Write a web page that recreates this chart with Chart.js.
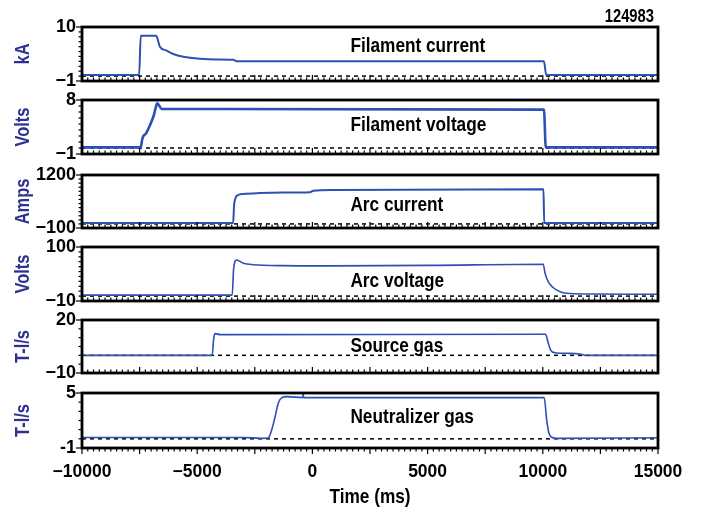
<!DOCTYPE html>
<html>
<head>
<meta charset="utf-8">
<script src="https://cdn.jsdelivr.net/npm/chart.js@4.4.1/dist/chart.umd.min.js"></script>
<style>
  body { margin: 0; background: #fff; }
  #wrap { position: relative; width: 701px; height: 513px; }
  #wrap canvas { position: absolute; left: 0; top: 0; }
</style>
</head>
<body>
<div id="wrap"></div>
<script>
// shot 124983 - beam source traces, times in ms
const shotNumber = '124983';

const filCurT = [-10000, -7520, -7450, -6780, -6620, -6330, -6040, -5600, -4880, -4150, -3430, -3300, 10050, 10150, 15000];
const filCurV = [0.2, 0.2, 8.2, 8.2, 6.0, 5.2, 4.5, 3.95, 3.55, 3.4, 3.35, 3.0, 3.0, 0.2, 0.2];

const filVoltT = [-10000, -7450, -7430, -7370, -7220, -7050, -6880, -6760, -6730, -6540, 10050, 10130, 15000];
const filVoltV = [0.1, 0.1, 0.5, 1.7, 2.45, 3.8, 5.5, 7.3, 7.45, 6.5, 6.4, 0.1, 0.1];

const arcCurT = [-10000, -3440, -3400, -3360, -3290, -3000, -2270, -1260, -100, 40, 900, 10030, 10060, 15000];
const arcCurV = [25, 25, 450, 590, 685, 735, 758, 768, 778, 815, 835, 850, 25, 25];

const arcVoltT = [-10000, -3480, -3420, -3290, -3000, -2560, -1260, 900, 5000, 10020, 10100, 10240, 10460, 10750, 11040, 11900, 15000];
const arcVoltV = [2, 2, 55, 73.5, 67, 64, 62, 61.5, 62.5, 65, 46, 29, 17, 9, 5.7, 4.3, 3.7];

const srcGasT = [-10000, -4350, -4280, -4220, -4000, 10120, 10240, 10340, 10530, 11040, 11620, 11830, 15000];
const srcGasV = [0, 0, 10, 12.3, 11.7, 11.9, 6.8, 3.0, 1.5, 1.15, 0.8, 0, 0];

const neuGasT = [-10000, -3000, -2200, -1920, -1770, -1620, -1480, -1330, -1120, -420, -400, -380, 10060, 10170, 10270, 10390, 10600, 15000];
const neuGasV = [0.15, 0.15, 0.05, 0.1, 0.95, 2.4, 3.9, 4.5, 4.6, 4.5, 4.9, 4.5, 4.5, 2.05, 0.6, 0.17, 0.05, 0.12];

const panelTitles = ['Filament current', 'Filament voltage', 'Arc current', 'Arc voltage', 'Source gas', 'Neutralizer gas'];
const unitLabels = ['kA', 'Volts', 'Amps', 'Volts', 'T-l/s', 'T-l/s'];
const yMin = [-1, -1, -100, -10, -10, -1];
const yMax = [10, 8, 1200, 100, 20, 5];
const yStep = [1, 1, 100, 10, 5, 1];
const yMinLabel = ['\u22121', '\u22121', '\u2212100', '\u221210', '\u221210', '-1'];
const yMaxLabel = ['10', '8', '1200', '100', '20', '5'];
const xMin = -10000, xMax = 15000;
const xTitle = 'Time (ms)';

const series = [
  [filCurT, filCurV], [filVoltT, filVoltV], [arcCurT, arcCurV],
  [arcVoltT, arcVoltV], [srcGasT, srcGasV], [neuGasT, neuGasV]
];

// page layout in pixels
const W = 701, H = 513;
const panelTop = [27, 100, 175, 247, 320, 393];
const panelBottom = [81, 154, 228, 301, 373, 448];
const titleOffset = [19, 25, 30, 34, 26.5, 24.5];
const lineWidths = [2, 2.6, 2, 1.6, 1.6, 1.6];

const FONT = "'Liberation Sans', Arial, sans-serif";
const BLUE = '#2c50b4';
const LABEL_BLUE = '#2e3192';

// no condensed face installed, so squeeze the plain bold one
function condensedText(ctx, text, x, y, o) {
  ctx.save();
  ctx.translate(x, y);
  if (o.rotate) ctx.rotate(-Math.PI / 2);
  ctx.scale(0.82, 1);
  ctx.font = 'bold ' + o.size + 'px ' + FONT;
  ctx.textAlign = o.align || 'left';
  ctx.textBaseline = 'middle';
  ctx.fillStyle = o.color || '#000';
  ctx.fillText(text, 0, 0);
  ctx.restore();
}

const panelDecor = {
  id: 'panelDecor',
  afterDraw(chart, args, opts) {
    const ctx = chart.ctx, a = chart.chartArea;
    const xs = chart.scales.x, ys = chart.scales.y;
    ctx.save();
    ctx.strokeStyle = '#000';
    ctx.lineWidth = 1.2;
    // y ticks on the outside left
    ys.ticks.forEach(t => {
      const py = ys.getPixelForValue(t.value);
      const len = (t.value === ys.min || t.value === ys.max) ? 6 : 3.5;
      ctx.beginPath();
      ctx.moveTo(a.left - len, py);
      ctx.lineTo(a.left, py);
      ctx.stroke();
    });
    // x ticks, inside for the upper panels, outside for the last one
    const dir = opts.ticksOut ? 1 : -1;
    xs.ticks.forEach(t => {
      const px = xs.getPixelForValue(t.value);
      const len = t.value % 2500 === 0 ? 6 : 3.5;
      ctx.beginPath();
      ctx.moveTo(px, a.bottom);
      ctx.lineTo(px, a.bottom + dir * len);
      ctx.stroke();
    });
    ctx.lineWidth = 2.8;
    ctx.strokeRect(a.left, a.top, a.right - a.left, a.bottom - a.top);
    ctx.restore();

    condensedText(ctx, opts.title, xs.getPixelForValue(1650), a.top + opts.titleOffset, { size: 21 });
    condensedText(ctx, opts.unit, 23, (a.top + a.bottom) / 2, { size: 20, rotate: true, align: 'center', color: LABEL_BLUE });
    if (opts.shot) {
      condensedText(ctx, opts.shot, a.right - 4, a.top - 10, { size: 18, align: 'right' });
    }
    if (opts.xTitle) {
      condensedText(ctx, opts.xTitle, (a.left + a.right) / 2, 497, { size: 21, align: 'center' });
    }
  }
};

const wrap = document.getElementById('wrap');

series.forEach(([ts, vs], i) => {
  const last = i === series.length - 1;
  const cv = document.createElement('canvas');
  cv.width = W;
  cv.height = H;
  wrap.appendChild(cv);

  new Chart(cv, {
    type: 'line',
    data: {
      datasets: [
        {
          data: ts.map((t, k) => ({ x: t, y: vs[k] })),
          borderColor: BLUE,
          borderWidth: lineWidths[i],
          pointRadius: 0,
          cubicInterpolationMode: 'monotone'
        },
        {
          data: [{ x: xMin, y: 0 }, { x: xMax, y: 0 }],
          borderColor: '#000',
          borderWidth: 1.5,
          borderDash: [4, 4],
          pointRadius: 0
        }
      ]
    },
    options: {
      responsive: false,
      animation: false,
      devicePixelRatio: 1,
      layout: {
        padding: { top: panelTop[i], bottom: last ? 0 : H - panelBottom[i], left: 0, right: 43 }
      },
      plugins: {
        legend: { display: false },
        tooltip: { enabled: false },
        panelDecor: {
          title: panelTitles[i],
          unit: unitLabels[i],
          titleOffset: titleOffset[i],
          ticksOut: last,
          shot: i === 0 ? shotNumber : null,
          xTitle: last ? xTitle : null
        }
      },
      scales: {
        x: {
          type: 'linear',
          min: xMin,
          max: xMax,
          grid: { display: false, drawTicks: false },
          border: { display: false },
          ticks: {
            display: last,
            stepSize: 250,
            autoSkip: false,
            maxRotation: 0,
            minRotation: 0,
            padding: 14,
            color: '#000',
            font: { family: FONT, size: 17.5, weight: 'bold' },
            callback: v => v % 5000 === 0 ? (v < 0 ? '\u2212' + Math.abs(v) : String(v)) : ''
          },
          afterFit: s => { s.height = last ? H - panelBottom[i] : 0; }
        },
        y: {
          min: yMin[i],
          max: yMax[i],
          grid: { display: false, drawTicks: false },
          border: { display: false },
          ticks: {
            stepSize: yStep[i],
            autoSkip: false,
            padding: 6,
            color: '#000',
            font: { family: FONT, size: 18, weight: 'bold' },
            callback: v => v === yMin[i] ? yMinLabel[i] : (v === yMax[i] ? yMaxLabel[i] : '')
          },
          afterFit: s => { s.width = 82; }
        }
      }
    },
    plugins: [panelDecor]
  });
});
</script>
</body>
</html>
